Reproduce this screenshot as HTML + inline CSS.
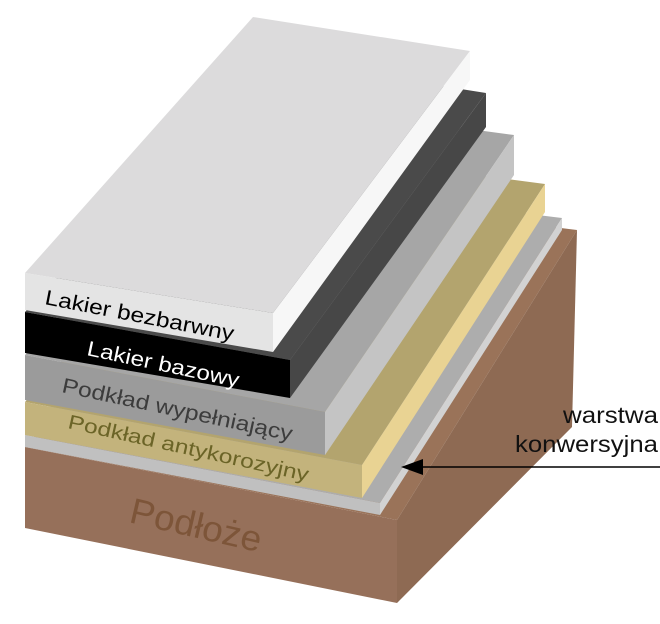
<!DOCTYPE html>
<html><head><meta charset="utf-8"><style>html,body{margin:0;padding:0;background:#fff;}svg{display:block}</style></head>
<body>
<svg width="660" height="624" viewBox="0 0 660 624" xmlns="http://www.w3.org/2000/svg" font-family="'Liberation Sans',sans-serif">
<!-- Brown substrate -->
<polygon points="25,447 253,190 577,230 397,520" fill="#9a7359"/>
<polygon points="25,447 397,520 397,603 25,528" fill="#96705a"/>
<polygon points="397,520 577,230 572,427 397,603" fill="#8e6a53"/>
<!-- conversion layer -->
<polygon points="25,435 253,180 562,218 380,503" fill="#adadad"/>
<polygon points="25,435 380,503 380,515 25,447" fill="#c0c0c0"/>
<polygon points="380,503 562,218 562,230 380,515" fill="#d2d2d2"/>
<!-- tan -->
<polygon points="25,402 253,146 545,184 362,465" fill="#b3a46e"/>
<polygon points="25,402 362,465 362,498 25,435" fill="#c3b37c"/>
<polygon points="362,465 545,184 545,212 362,498" fill="#e9d393"/>
<!-- gray -->
<polygon points="25,355 253,100 514,135 325,412" fill="#a6a6a6"/>
<polygon points="25,355 325,412 325,455 25,400" fill="#9b9b9b"/>
<polygon points="325,412 514,135 514,175 325,455" fill="#c4c4c4"/>
<!-- black -->
<polygon points="25,312 253,56 486,93 290,360" fill="#4a4a4a"/>
<polygon points="25,312 290,360 290,398 25,353" fill="#000"/>
<polygon points="290,360 486,93 486,127 290,398" fill="#474747"/>
<!-- white -->
<polygon points="25,273 253,17 470,51 273,313" fill="#dcdbdc"/>
<polygon points="25,273 273,313 273,352 25,310" fill="#e4e4e4"/>
<polygon points="273,313 470,51 470,80 273,352" fill="#f7f7f7"/>
<!-- labels -->
<text x="0" y="0" font-size="21" fill="#000" textLength="192" lengthAdjust="spacingAndGlyphs" transform="translate(44,304) rotate(11)">Lakier bezbarwny</text>
<text x="0" y="0" font-size="21" fill="#fff" textLength="155" lengthAdjust="spacingAndGlyphs" transform="translate(86,355) rotate(12)">Lakier bazowy</text>
<text x="0" y="0" font-size="21" fill="#3c3c3c" textLength="235" lengthAdjust="spacingAndGlyphs" transform="translate(61,392) rotate(12)">Podkład wypełniający</text>
<text x="0" y="0" font-size="20" fill="#6b6427" textLength="246" lengthAdjust="spacingAndGlyphs" transform="translate(67,428) rotate(12.5)">Podkład antykorozyjny</text>
<text x="0" y="0" font-size="36" fill="#7d5539" textLength="134" lengthAdjust="spacingAndGlyphs" transform="translate(128,522) rotate(13)">Podłoże</text>
<!-- arrow -->
<line x1="660" y1="467" x2="418" y2="467" stroke="#000" stroke-width="1.5"/>
<polygon points="401,467 423,459 423,475" fill="#000"/>
<text x="658" y="423" font-size="23" text-anchor="end" fill="#111" textLength="95" lengthAdjust="spacingAndGlyphs">warstwa</text>
<text x="658" y="452" font-size="23" text-anchor="end" fill="#111" textLength="143" lengthAdjust="spacingAndGlyphs">konwersyjna</text>
</svg>
</body></html>
